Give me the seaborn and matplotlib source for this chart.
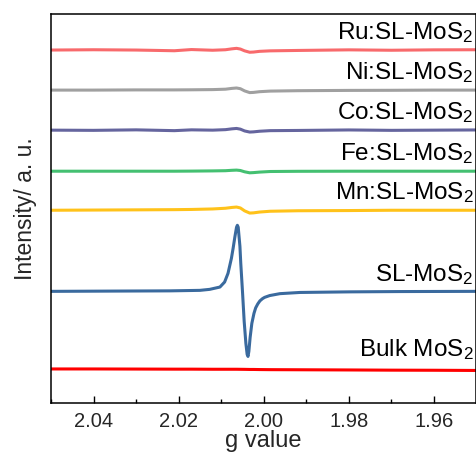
import matplotlib
matplotlib.use("Agg")
import matplotlib.pyplot as plt
import seaborn as sns
import numpy as np
import pandas as pd
from matplotlib.ticker import MultipleLocator

# ---- data (intensity in arbitrary units) ----
# single-layer MoS2 spectrum
g_sl = [2.0500, 2.0338, 2.0221, 2.0150, 2.0127, 2.0103, 2.0092, 2.0084, 2.0076,
        2.0072, 2.0068, 2.0064, 2.0062, 2.0060, 2.0056, 2.0054, 2.0050, 2.0046,
        2.0042, 2.0039, 2.0037, 2.0035, 2.0032, 2.0028, 2.0023, 2.0019, 2.0014,
        2.0009, 2.0003, 1.9998, 1.9986, 1.9962, 1.9915, 1.9798, 1.9681, 1.9500]
i_sl = [0, 0.3, 0.5, 1, 2, 4.3, 9.3, 18, 33,
        43, 54, 64, 66, 64, 45, 28, 0, -30,
        -52, -63, -65, -60, -46, -32, -22, -16.5, -12.5,
        -9.5, -7.3, -6, -4.2, -2.3, -1.1, -0.5, -0.2, 0]

# doped samples + bulk share one g grid
g_small = [2.050, 2.040, 2.030, 2.021, 2.017, 2.012, 2.009, 2.0075, 2.0064, 2.0055,
           2.0045, 2.0033, 2.0024, 2.0010, 1.9985, 1.992, 1.980, 1.970, 1.960, 1.950]
i_ru = [0, 0.3, 0, -0.7, 0.5, -0.2, 0.3, 1.2, 1.7, 1.0, -0.8, -2.2, -2.0, -1.3, -0.8, -0.4, 0.2, -0.2, 0.2, 0.3]
i_ni = [0, 0, 0.2, 0.2, 0.3, 0.5, 0.9, 1.7, 2.1, 1.4, -0.8, -2.5, -2.3, -1.6, -1, -0.6, -0.3, -0.2, 0, 0]
i_co = [0, -0.2, 0.3, -0.5, 0.3, 0, 0.5, 1.3, 1.7, 1.0, -0.8, -1.9, -1.7, -1.1, -0.5, -0.3, 0.2, -0.2, 0, 0.2]
i_fe = [0, 0, 0, 0, 0.1, 0.3, 0.5, 0.9, 1.1, 0.7, -0.6, -1.6, -1.4, -0.9, -0.3, -0.1, 0, 0, 0, 0]
i_mn = [0, 0.2, 0.4, 0.6, 0.8, 1.3, 2, 2.8, 3.2, 2.3, -0.6, -2.8, -2.6, -1.8, -1, -0.5, -0.3, 0, 0, 0]
i_bulk = [0.5, 0.5, 0.4, 0.3, 0.3, 0.2, 0.2, 0.2, 0.2, 0.15, 0.1, 0, 0, -0.1, -0.2, -0.3, -0.5, -0.7, -0.8, -1]

names = ["Ru:SL-MoS$_2$", "Ni:SL-MoS$_2$", "Co:SL-MoS$_2$", "Fe:SL-MoS$_2$",
         "Mn:SL-MoS$_2$", "SL-MoS$_2$", "Bulk MoS$_2$"]
offsets = [352, 312, 272, 231, 192, 111, 33]
colors = ["#F86A6C", "#A0A0A0", "#65659E", "#44C071", "#FFC21A", "#3A6A9E", "#FF0000"]
traces = [(g_small, i_ru), (g_small, i_ni), (g_small, i_co), (g_small, i_fe),
          (g_small, i_mn), (g_sl, i_sl), (g_small, i_bulk)]
label_gap = [11, 11, 11, 11, 11, 10, 13]

sns.set_theme(style="ticks")
plt.rcParams["font.family"] = ["Liberation Sans", "DejaVu Sans"]
plt.rcParams["mathtext.fontset"] = "custom"
plt.rcParams["mathtext.rm"] = "Liberation Sans"
plt.rcParams["mathtext.it"] = "Liberation Sans"

fig = plt.figure(figsize=(4.77, 4.57), dpi=100)
ax = fig.add_axes([51 / 477, 1 - 402.5 / 457, 425.5 / 477, 388.5 / 457])

for (g, inten), off, col, name, gap in zip(traces, offsets, colors, names, label_gap):
    df = pd.DataFrame({"g": g, "I": np.array(inten) + off})
    sns.lineplot(data=df, x="g", y="I", color=col, lw=2.2, ax=ax)
    ax.text(0.993, off + gap, name, transform=ax.get_yaxis_transform(),
            ha="right", va="baseline", fontsize=17.5, color="black")

ax.set_xlim(2.05, 1.95)
ax.set_ylim(0, 388)
ax.xaxis.set_major_locator(MultipleLocator(0.02))
ax.xaxis.set_minor_locator(MultipleLocator(0.01))
ax.set_xticks([2.04, 2.02, 2.00, 1.98, 1.96])
ax.set_xticklabels(["2.04", "2.02", "2.00", "1.98", "1.96"])
ax.set_yticks([])
ax.tick_params(axis="x", which="major", direction="in", length=5, width=1,
               labelsize=14.5, pad=7, color="black")
ax.tick_params(axis="x", which="minor", direction="in", length=3, width=1, color="black")
for s in ax.spines.values():
    s.set_linewidth(1.1)
    s.set_color("black")
ax.set_xlabel("g value", fontsize=17, labelpad=-1)
ax.set_ylabel("Intensity/ a. u.", fontsize=16.5, labelpad=10)

fig.savefig("out.png", dpi=100)
